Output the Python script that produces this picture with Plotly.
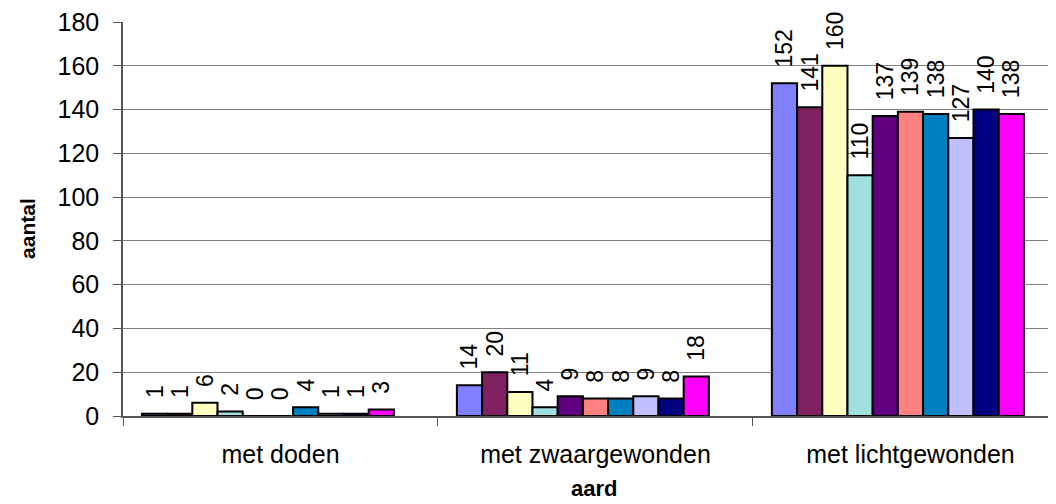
import plotly.graph_objects as go

categories = ["met doden", "met zwaargewonden", "met lichtgewonden"]
series_names = ["reeks 1", "reeks 2", "reeks 3", "reeks 4", "reeks 5",
                "reeks 6", "reeks 7", "reeks 8", "reeks 9", "reeks 10", "reeks 11"]
values = [
    [1, 14, 152],
    [1, 20, 141],
    [6, 11, 160],
    [2, 4, 110],
    [0, 9, 137],
    [0, 8, 139],
    [4, 8, 138],
    [1, 9, 127],
    [1, 8, 140],
    [3, 18, 138],
    [None, None, None],
]
colors = ["#8080FF", "#802060", "#FFFFC0", "#A0E0E0", "#600080",
          "#FF8080", "#0080C0", "#C0C0FF", "#000080", "#FF00FF", "#FFFF00"]
y_ticks = [0, 20, 40, 60, 80, 100, 120, 140, 160, 180]

FONT = "Liberation Sans, Arial, sans-serif"

fig = go.Figure()
for name, vals, col in zip(series_names, values, colors):
    fig.add_trace(go.Bar(
        x=categories, y=vals, name=name,
        marker=dict(color=col, line=dict(color="black", width=2)),
        texttemplate="\u00a0\u00a0%{y}",
        textposition="outside", textangle=-90,
        textfont=dict(family=FONT, size=23, color="black"),
        constraintext="none", cliponaxis=False,
        showlegend=False,
    ))

fig.update_layout(
    width=1048, height=496,
    margin=dict(l=115, r=0, t=14, b=88),
    paper_bgcolor="white", plot_bgcolor="white",
    barmode="group", bargap=0.12, bargroupgap=0,
    font=dict(family=FONT, size=25, color="black"),
    annotations=[
        dict(text="<b>aard</b>", xref="paper", yref="paper", x=0.505, y=-0.183,
             xanchor="center", yanchor="middle", showarrow=False,
             font=dict(family=FONT, size=22, color="black")),
        dict(text="<b>aantal</b>", xref="paper", yref="paper", x=-0.103, y=0.477,
             xanchor="center", yanchor="middle", textangle=-90, showarrow=False,
             font=dict(family=FONT, size=21, color="black")),
    ],
)
fig.update_xaxes(
    range=[-0.5, 2.462], tickson="boundaries",
    ticks="outside", ticklen=8, tickcolor="#555555",
    showline=True, linecolor="#555555", linewidth=1.5,
    tickfont=dict(family=FONT, size=25), ticklabelstandoff=15,
)
fig.update_yaxes(
    range=[0, 180], tickvals=y_ticks,
    ticks="outside", ticklen=8, tickcolor="#555555",
    showline=True, linecolor="#555555", linewidth=1.5,
    showgrid=True, gridcolor="#808080", gridwidth=1.2,
    zeroline=False, ticklabeloverflow="allow",
    tickfont=dict(family=FONT, size=25), ticklabelstandoff=9,
)

fig.write_html("out.html")
